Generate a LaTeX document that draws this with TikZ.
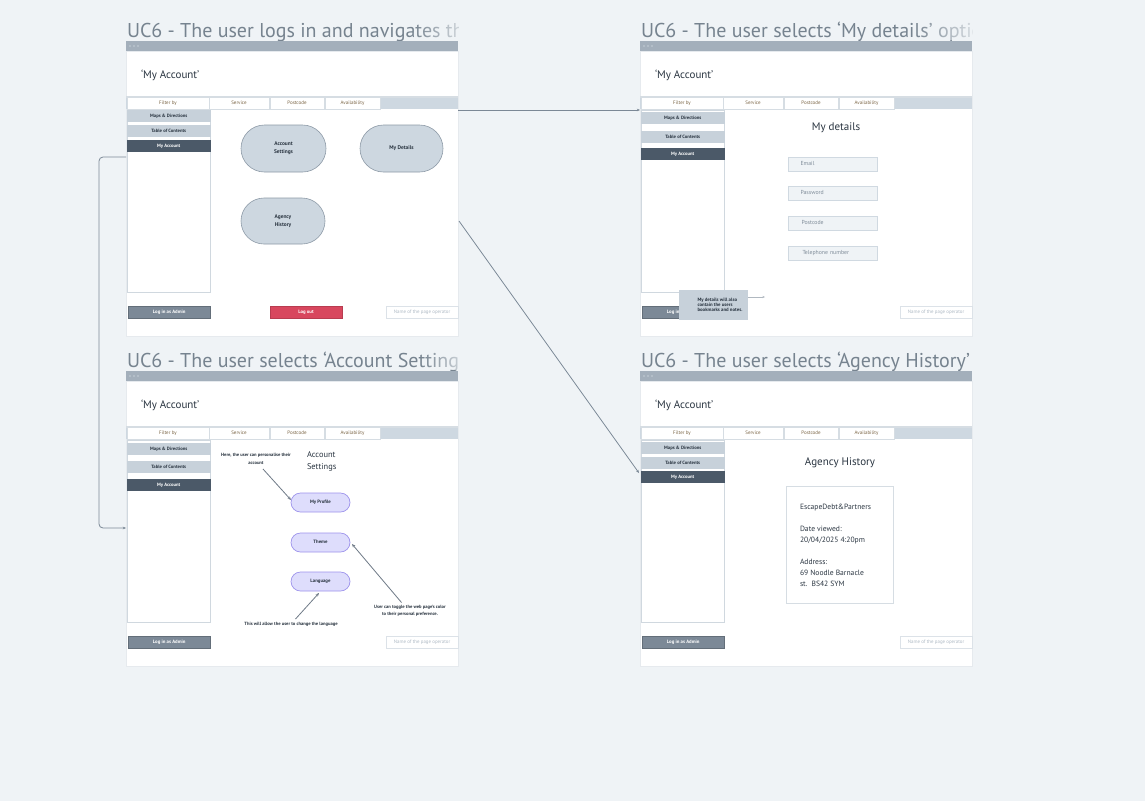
\documentclass[tikz,border=0pt]{standalone}
\usepackage{fontspec}
\setmainfont{PT Sans}
\usetikzlibrary{fadings,arrows.meta}
\definecolor{bgc}{HTML}{EFF3F6}
\definecolor{topbar}{HTML}{A3AFBB}
\definecolor{dotc}{HTML}{BAC4CD}
\definecolor{titlec}{HTML}{76838F}
\definecolor{tabband}{HTML}{CED8E1}
\definecolor{tabline}{HTML}{D6DDE3}
\definecolor{tabtxt}{HTML}{7A6444}
\definecolor{sidelight}{HTML}{C7D1DA}
\definecolor{sidedark}{HTML}{4B5968}
\definecolor{sideline}{HTML}{D0D8DF}
\definecolor{btngrey}{HTML}{7C8997}
\definecolor{btnred}{HTML}{D8475E}
\definecolor{inputline}{HTML}{DCE2E8}
\definecolor{inputtxt}{HTML}{AEB9C4}
\definecolor{darktxt}{HTML}{2A3541}
\definecolor{ellfill}{HTML}{CDD7E0}
\definecolor{elldraw}{HTML}{8D9AA7}
\definecolor{lavfill}{HTML}{DEDDFC}
\definecolor{lavdraw}{HTML}{9D93EC}
\definecolor{fieldfill}{HTML}{EFF3F6}
\definecolor{fieldline}{HTML}{D0D9E1}
\definecolor{fieldtxt}{HTML}{7E8B98}
\definecolor{arrowc}{HTML}{7B8896}
\definecolor{framel}{HTML}{E6EAEE}
\tikzfading[name=fadeR, left color=transparent!100, right color=transparent!0]
\tikzset{
  every node/.style={inner sep=0pt, outer sep=0pt},
  tinytext/.style={text height=3.4pt, text depth=0.9pt},
  titletxt/.style={text=titlec, anchor=base west, font=\fontsize{20}{20}\selectfont},
  headtxt/.style={text=darktxt, anchor=base west, font=\fontsize{11}{11}\selectfont},
  tabbox/.style={tinytext, fill=white, draw=tabline, line width=0.6pt, text=tabtxt, font=\fontsize{5}{5}\selectfont},
  sidelt/.style={tinytext, fill=sidelight, text=darktxt, font=\bfseries\fontsize{4.7}{5}\selectfont},
  sidedk/.style={tinytext, fill=sidedark, text=white, font=\bfseries\fontsize{4.7}{5}\selectfont},
  btng/.style={tinytext, fill=btngrey, draw=btngrey!80!black, line width=0.3pt, text=white, font=\bfseries\fontsize{4.8}{5}\selectfont},
  btnr/.style={tinytext, fill=btnred, draw=btnred!85!black, line width=0.3pt, text=white, font=\bfseries\fontsize{4.8}{5}\selectfont},
  inbox/.style={tinytext, fill=white, draw=inputline, line width=0.6pt, text=inputtxt, font=\fontsize{4.9}{5}\selectfont},
  ellbox/.style={fill=ellfill, draw=elldraw, line width=0.6pt, text=darktxt, align=center, font=\bfseries\fontsize{5.4}{8}\selectfont},
  lavbox/.style={tinytext, fill=lavfill, draw=lavdraw, line width=0.7pt, text=darktxt, font=\bfseries\fontsize{4.8}{5}\selectfont, rounded corners=9.5pt},
  fieldbox/.style={text height=4pt, text depth=1.2pt, fill=fieldfill, draw=fieldline, line width=0.8pt, text=fieldtxt, font=\fontsize{5.8}{6}\selectfont, text width=80pt, align=left},
  notebox/.style={fill=sidelight, text=darktxt, font=\bfseries\fontsize{4.8}{6.2}\selectfont, align=left},
  smallnote/.style={text=darktxt, align=center, font=\bfseries\fontsize{4.6}{7.4}\selectfont},
  midhead/.style={text=darktxt, font=\fontsize{11}{11}\selectfont},
  cardtxt/.style={text=darktxt, anchor=base west, font=\fontsize{7.6}{8}\selectfont},
  conn/.style={draw=arrowc, line width=0.8pt, -{Stealth[length=3.2pt,width=2.6pt]}},
  noteconn/.style={draw=arrowc!90!black, line width=0.8pt, -{Stealth[length=3.5pt,width=3pt]}},
}
\newcommand\bx[7]{\node[#1, anchor=north west, minimum width={((#5)-(#3))*1pt}, minimum height={((#6)-(#4))*1pt}] (#2) at (#3,#4) {#7};}
\newcommand\uiframe[7]{%
\begin{scope}[shift={(#2,#3)}]
  \fill[white] (0,10) rectangle (332,295);
  \draw[framel, line width=0.6pt] (0,10) rectangle (332,295);
  \bx{fill=topbar}{#1bar}{0}{0}{332}{10}{}
  \foreach \d in {4,8,12} \fill[dotc] (\d,5) circle (1.1);
  \begin{scope}
    \clip (0,-26) rectangle (332,-1);
    \node[titletxt] (#1title) at (1,-4) {#4};
  \end{scope}
  \node[headtxt] (#1head) at (15,37) {`My Account'};
  \fill[tabline] (0,55) rectangle (332,56.5);
  \fill[tabband] (0,56.5) rectangle (332,68);
  \bx{tabbox}{#1tA}{1}{56.5}{83}{68}{Filter by}
  \bx{tabbox}{#1tB}{83}{56.5}{143}{68}{Service}
  \bx{tabbox}{#1tC}{144}{56.5}{198}{68}{Postcode}
  \bx{tabbox}{#1tD}{199}{56.5}{254}{68}{Availability}
  \draw[sideline, line width=0.6pt] (1,69) rectangle (84.5,251);
  \bx{sidelt}{#1sA}{1}{#5}{84.5}{#5+12}{Maps \& Directions}
  \bx{sidelt}{#1sB}{1}{#6}{84.5}{#6+12}{Table of Contents}
  \bx{sidedk}{#1sC}{1}{#7}{84.5}{#7+12}{My Account}
  \bx{btng}{#1admin}{2}{265}{84.5}{277}{Log in as Admin}
  \bx{inbox}{#1op}{260}{265}{332}{277}{Name of the page operator}
\end{scope}}
\begin{document}
\begin{tikzpicture}[x=1pt,y=-1pt]
\useasboundingbox (0,0) rectangle (1145,801);
\fill[bgc] (0,0) rectangle (1145,801);

% ---------- frame 1
\uiframe{fa}{126}{41}{UC6 - The user logs in and navigates th}{69}{84}{99}
\bx{btnr}{falogout}{270}{306}{342}{318}{Log out}
\node[ellbox, minimum width=85pt, minimum height=47pt, rounded corners=23.5pt] (accset) at (283.5,148.5) {Account\\Settings};
\node[ellbox, minimum width=83pt, minimum height=47pt, rounded corners=23.5pt] (mydet) at (401.5,148.5) {My Details};
\node[ellbox, minimum width=84pt, minimum height=46pt, rounded corners=23pt] (aghist) at (283,221) {Agency\\History};

% ---------- frame 2
\uiframe{fb}{640}{41}{UC6 - The user selects `My details' optio}{71}{90}{107}
\node[midhead] (mydhead) at (836,128) {My details};
\bx{fieldbox}{femail}{788}{157}{877}{171}{\hspace*{8pt}Email}
\bx{fieldbox}{fpass}{788}{186}{877}{200}{\hspace*{8pt}Password}
\bx{fieldbox}{fpost}{788}{216}{877}{230}{\hspace*{9pt}Postcode}
\bx{fieldbox}{ftel}{788}{246}{877}{260}{\hspace*{10pt}Telephone number}
\bx{notebox}{bmnote}{679}{290}{748}{320}{\hspace*{13pt}\begin{tabular}{@{}l@{}}My details will also\\[-1.2pt]contain the users\\[-1.2pt]bookmarks and notes.\end{tabular}}
\coordinate (bmend) at (765,297);
\draw[draw=arrowc!60, line width=0.6pt, -{Stealth[length=2.5pt,width=2pt]}] (bmnote.east |- bmend) -- (bmend);

% ---------- frame 3
\uiframe{fc}{126}{371}{UC6 - The user selects `Account Setting}{72}{90}{108}
\node[text=darktxt, anchor=north west, align=left, font=\fontsize{8.4}{12}\selectfont] (ashead) at (307,452) {Account\\Settings};
\node[smallnote] (persnote) at (256,459) {Here, the user can personalise their\\account};
\bx{lavbox}{myprof}{291}{493}{350}{512}{My Profile}
\bx{lavbox}{theme}{291}{533}{350}{552}{Theme}
\bx{lavbox}{lang}{291}{572}{350}{591}{Language}
\node[smallnote] (colnote) at (410,611) {User can toggle the web page's color\\to their personal preference.};
\node[smallnote] (langnote) at (291,624) {This will allow the user to change the language};
\coordinate (pn1) at (263,469);
\draw[noteconn] (pn1) -- (myprof.west |- 0,500);
\coordinate (cn1) at (401.5,602.5);
\draw[noteconn] (cn1) -- (352,544);
\coordinate (ln1) at (295.5,619);
\draw[noteconn] (ln1) -- (319,593);

% ---------- frame 4
\uiframe{fd}{640}{371}{UC6 - The user selects `Agency History'}{71}{86}{100}
\node[midhead] (aghead) at (840,463) {Agency History};
\bx{fill=white, draw=tabline, line width=1pt}{card}{786}{486}{893}{603}{}
\node[cardtxt] (c1) at (800,509) {EscapeDebt\&Partners};
\node[cardtxt] (c2) at (800,531) {Date viewed:};
\node[cardtxt] (c3) at (800,542.5) {20/04/2025 4:20pm};
\node[cardtxt] (c4) at (800,564.5) {Address:};
\node[cardtxt] (c5) at (800,575.5) {69 Noodle Barnacle};
\node[cardtxt] (c6) at (800,586.5) {st.\ \ BS42 SYM};

% ---------- title fades
\fill[bgc, path fading=fadeR] (412,14) rectangle (476,40);
\fill[bgc, path fading=fadeR] (912,14) rectangle (990,40);
\fill[bgc, path fading=fadeR] (420,344) rectangle (478,370);

% ---------- connectors
\coordinate (k1a) at (126,157);
\coordinate (k1b) at (126,528);
\draw[conn, rounded corners=4pt] (k1a) -- (99,157) -- (99,528) -- (k1b);
\coordinate (k2a) at (458,110);
\coordinate (k2b) at (640,110);
\draw[conn] (k2a) -- (k2b);
\coordinate (k3a) at (459,221);
\coordinate (k3b) at (639,473);
\draw[conn] (k3a) -- (k3b);
\end{tikzpicture}
\end{document}
